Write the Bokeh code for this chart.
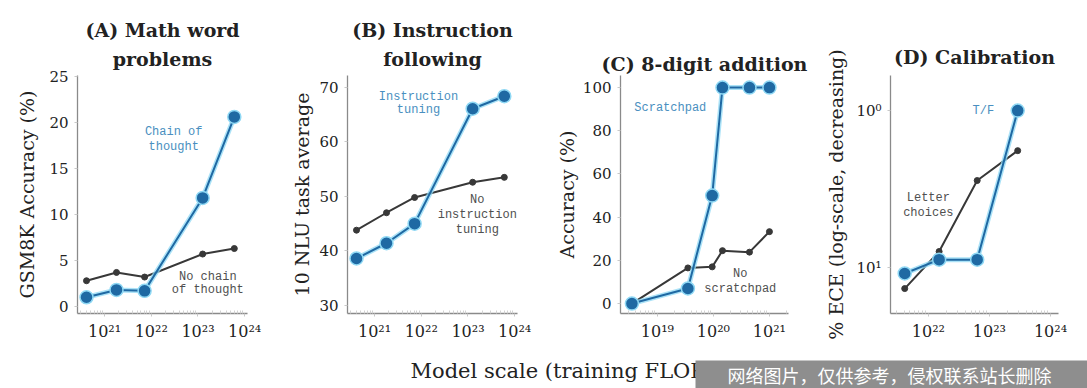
from bokeh.plotting import figure
from bokeh.layouts import row, column
from bokeh.models import Range1d, FixedTicker, CustomJSTickFormatter, Label, Title
from bokeh.core.properties import value
from bokeh.embed import file_html
from bokeh.resources import INLINE

# ---------------- data ----------------
lamda_flops = [4.1e20, 1.8e21, 7.2e21, 1.26e23, 6.0e23]
gsm8k_cot = [1.0, 1.8, 1.7, 11.8, 20.6]
gsm8k_no_cot = [2.8, 3.7, 3.2, 5.7, 6.3]
nlu_instr = [38.6, 41.4, 45.0, 66.1, 68.4]
nlu_no_instr = [43.8, 47.0, 49.8, 52.6, 53.5]
add_flops = [3.5e18, 3.5e19, 9.5e19, 1.45e20, 4.4e20, 1.0e21]
add_scratch = [0, 7, 50, 100, 100, 100]
add_no_scratch = [0, 16.5, 17, 24.5, 23.8, 33.3]
cal_flops = [4.1e21, 1.5e22, 6.3e22, 2.9e23]
cal_tf = [10.9, 8.9, 8.9, 1.0]
cal_letter = [13.6, 7.9, 2.79, 1.80]

titles = [["(A) Math word", "problems"], ["(B) Instruction", "following"],
          ["(C) 8-digit addition"], ["(D) Calibration"]]
ylabels = ["GSM8K Accuracy (%)", "10 NLU task average", "Accuracy (%)",
           "% ECE (log-scale, decreasing)"]
xlabel = "Model scale (training FLOPs)"
watermark = "网络图片，仅供参考，侵权联系站长删除"

BLUE = "#1f69a3"
HALO = "#8fd8f4"
DARK = "#383838"
SERIF = "DejaVu Serif"
MONO = "Liberation Mono"

SUP_JS = """
const sup = {"0":"\u2070","1":"\u00b9","2":"\u00b2","3":"\u00b3","4":"\u2074",
             "5":"\u2075","6":"\u2076","7":"\u2077","8":"\u2078","9":"\u2079","-":"\u207b"};
const e = Math.round(Math.log10(tick));
return "10" + String(e).split("").map(c => sup[c]).join("");
"""

TOP, FH, BOT = 75, 238, 32
H = TOP + FH + BOT


def minor_list(lo, hi):
    out = []
    for e in range(lo, hi):
        for m in range(2, 10):
            out.append(m * 10.0 ** e)
    return out


def panel(width, left, right, xr, yr, ylog, xt, xminor, yt, title_lines, t_standoff,
          ylabel, yl_standoff):
    p = figure(width=width, height=H, output_backend="svg", toolbar_location=None,
               x_axis_type="log", y_axis_type="log" if ylog else "linear",
               x_range=Range1d(*xr), y_range=Range1d(*yr),
               min_border_left=left, min_border_right=right,
               min_border_top=TOP, min_border_bottom=BOT)
    p.outline_line_color = None
    p.xgrid.visible = False
    p.ygrid.visible = False
    p.background_fill_color = "white"
    for ax in (p.xaxis[0], p.yaxis[0]):
        ax.axis_line_color = "#8a8a8a"
        ax.axis_line_width = 1.3
        ax.major_tick_line_color = "#c8c8c8"
        ax.major_tick_out = 3
        ax.major_tick_in = 0
        ax.major_label_text_font = SERIF
        ax.major_label_text_color = "#222222"
        ax.major_label_standoff = 6
    p.xaxis.major_label_text_font_size = "16px"
    p.xaxis.major_label_standoff = 5
    p.yaxis.major_label_text_font_size = "15px"
    p.xaxis.ticker = FixedTicker(ticks=xt, minor_ticks=xminor)
    p.xaxis.formatter = CustomJSTickFormatter(code=SUP_JS)
    p.xaxis.minor_tick_line_color = "#d2d2d2"
    p.xaxis.minor_tick_in = 3
    p.xaxis.minor_tick_out = 0
    p.yaxis.ticker = FixedTicker(ticks=yt)
    p.yaxis.minor_tick_line_color = None
    if ylog:
        p.yaxis.formatter = CustomJSTickFormatter(code=SUP_JS)
    p.yaxis.axis_label = ylabel
    p.yaxis.axis_label_text_font = SERIF
    p.yaxis.axis_label_text_font_size = "19px"
    p.yaxis.axis_label_text_font_style = "normal"
    p.yaxis.axis_label_text_color = "#222222"
    p.yaxis.axis_label_standoff = yl_standoff
    # titles: the last added sits farthest from the frame
    for i, line in enumerate(reversed(title_lines)):
        p.add_layout(Title(text=line, align="center", text_font=SERIF,
                           text_font_size="19px", text_font_style="bold",
                           text_color="#222222",
                           standoff=t_standoff if i == 0 else 0), "above")
    return p


def series(p, x, blue, black):
    p.line(x, black, line_color=DARK, line_width=2)
    p.scatter(x, black, size=6, color=DARK)
    p.line(x, blue, line_color=HALO, line_width=5, line_alpha=0.75)
    p.line(x, blue, line_color=BLUE, line_width=2)
    p.scatter(x, blue, size=13, fill_color=BLUE, line_color=HALO, line_width=1.5)


def note(p, x, y, text, color):
    p.add_layout(Label(x=x, y=y, text=text, text_font=MONO, text_font_size="12px",
                       text_color=color, text_align="center", text_baseline="middle"))


NOTE_BLUE = "#4a8fc0"
NOTE_GRAY = "#505050"

# (A)
pa = panel(280, 77, 33, (2.63e20, 1.15e24), (-0.76, 25.1), False,
           [1e21, 1e22, 1e23, 1e24], minor_list(20, 24), [0, 5, 10, 15, 20, 25],
           titles[0], 11, ylabels[0], 8)
series(pa, lamda_flops, gsm8k_cot, gsm8k_no_cot)
note(pa, 10 ** 22.48, 19.0, "Chain of", NOTE_BLUE)
note(pa, 10 ** 22.48, 17.3, "thought", NOTE_BLUE)
note(pa, 10 ** 23.21, 3.26, "No chain", NOTE_GRAY)
note(pa, 10 ** 23.21, 1.74, "of thought", NOTE_GRAY)

# (B)
pb = panel(272, 67, 35, (2.63e20, 1.15e24), (28.5, 72.2), False,
           [1e21, 1e22, 1e23, 1e24], minor_list(20, 24), [30, 40, 50, 60, 70],
           titles[1], 11, ylabels[1], 3)
series(pb, lamda_flops, nlu_instr, nlu_no_instr)
note(pb, 10 ** 21.94, 68.2, "Instruction", NOTE_BLUE)
note(pb, 10 ** 21.94, 65.8, "tuning", NOTE_BLUE)
note(pb, 10 ** 23.2, 49.3, "No", NOTE_GRAY)
note(pb, 10 ** 23.2, 46.5, "instruction", NOTE_GRAY)
note(pb, 10 ** 23.2, 43.8, "tuning", NOTE_GRAY)

# (C)
pc = panel(270, 68, 34, (2.19e18, 2.19e21), (-4.6, 105.6), False,
           [1e19, 1e20, 1e21], minor_list(18, 22), [0, 20, 40, 60, 80, 100],
           titles[2], 1, ylabels[2], 2)
series(pc, add_flops, add_scratch, add_no_scratch)
note(pc, 10 ** 19.23, 90.7, "Scratchpad", NOTE_BLUE)
note(pc, 10 ** 20.48, 13.9, "No", NOTE_GRAY)
note(pc, 10 ** 20.48, 6.9, "scratchpad", NOTE_GRAY)

# (D)
pd_ = panel(265, 68, 29, (2.4e21, 1.35e24), (19.6, 0.598), True,
            [1e22, 1e23, 1e24], minor_list(21, 25), [1, 10],
            titles[3], 15, ylabels[3], 6)
series(pd_, cal_flops, cal_tf, cal_letter)
note(pd_, 10 ** 22.90, 1.0, "T/F", NOTE_BLUE)
note(pd_, 10 ** 22.0, 3.63, "Letter", NOTE_GRAY)
note(pd_, 10 ** 22.0, 4.46, "choices", NOTE_GRAY)

# shared x label strip (with the reference's watermark box over its right part)
SW, SH = 1087, 43
px = figure(width=SW, height=SH, output_backend="svg", toolbar_location=None,
            x_range=Range1d(0, SW), y_range=Range1d(0, SH),
            x_axis_location=None, y_axis_location=None,
            min_border=0, min_border_left=0, min_border_right=0,
            min_border_top=0, min_border_bottom=0)
px.outline_line_color = None
px.xgrid.visible = False
px.ygrid.visible = False
px.text(x=[410], y=[18], text=[xlabel], text_font=value(SERIF), text_font_size="21px",
        text_color="#222222", text_align="left", text_baseline="middle")
px.quad(left=[695], right=[SW], bottom=[0], top=[28], fill_color="#8e8e8e",
        line_color=None)
px.add_layout(Label(x=889, y=14, text=watermark, text_font="Noto Sans CJK SC",
                    text_font_size="18px", text_color="white", text_align="center",
                    text_baseline="middle"))

layout = column(row(pa, pb, pc, pd_), px)

with open("out.html", "w", encoding="utf-8") as f:
    f.write(file_html(layout, INLINE))
